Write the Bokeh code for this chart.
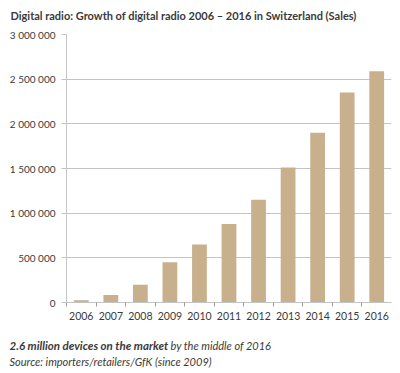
from bokeh.plotting import figure
from bokeh.layouts import column
from bokeh.models import Range1d, FixedTicker, CustomJSTickFormatter, Label, ColumnDataSource
from bokeh.embed import file_html
from bokeh.resources import INLINE

# ---- data ----
years = ["2006", "2007", "2008", "2009", "2010", "2011", "2012", "2013", "2014", "2015", "2016"]
sales = [25000, 85000, 200000, 450000, 650000, 880000, 1150000, 1510000, 1900000, 2350000, 2590000]
y_ticks = [0, 500000, 1000000, 1500000, 2000000, 2500000, 3000000]
title_text = "Digital radio: Growth of digital radio 2006 \u2013 2016 in Switzerland (Sales)"
note_bold = "2.6 million devices on the market"
note_rest = "by the middle of 2016"
source_text = "Source: importers/retailers/GfK (since 2009)"

FONT = "Lato"
TXT = "#3a3a3a"
GRID = "#c4c4c4"
BAR = "#c9b08c"
W = 392
HEAD_H, MAIN_H, FOOT_H = 26, 302, 44


def text_panel(h):
    f = figure(width=W, height=h, output_backend="svg", toolbar_location=None,
               x_range=Range1d(0, W), y_range=Range1d(0, h),
               x_axis_location=None, y_axis_location=None,
               min_border=0, min_border_left=0, min_border_right=0,
               min_border_top=0, min_border_bottom=0)
    f.frame_align = False
    f.outline_line_color = None
    f.grid.visible = False
    f.background_fill_color = "white"
    f.border_fill_color = "white"
    return f


# ---- header ----
head = text_panel(HEAD_H)
head.add_layout(Label(x=10, y=HEAD_H - 15, x_units="screen", y_units="screen", text=title_text,
                      text_font=FONT, text_font_size="11px", text_font_style="bold",
                      text_color=TXT, text_baseline="alphabetic"))

# ---- main chart ----
x_pos = [i + 0.5 for i in range(len(years))]
src = ColumnDataSource(dict(x=x_pos, top=sales, year=years))

p = figure(width=W, height=MAIN_H, output_backend="svg", toolbar_location=None,
           x_range=Range1d(0, len(years)), y_range=Range1d(0, y_ticks[-1]),
           min_border_left=66, min_border_right=1, min_border_top=8, min_border_bottom=26)
p.frame_align = False
p.outline_line_color = None
p.background_fill_color = "white"
p.border_fill_color = "white"

p.vbar(x="x", top="top", width=0.5, source=src, fill_color=BAR, line_color=None)

p.yaxis.ticker = FixedTicker(ticks=y_ticks, minor_ticks=[])
p.yaxis.formatter = CustomJSTickFormatter(code="return Math.round(tick).toString().replace(/\\B(?=(\\d{3})+(?!\\d))/g, ' ');")
p.yaxis.axis_line_color = GRID
p.yaxis.major_tick_line_color = GRID
p.yaxis.major_tick_out = 5
p.yaxis.major_tick_in = 0
p.yaxis.minor_tick_line_color = None
p.yaxis.major_label_standoff = 6
p.yaxis.major_label_text_font = FONT
p.yaxis.major_label_text_font_size = "10px"
p.yaxis.major_label_text_color = TXT
p.ygrid.grid_line_color = GRID
p.ygrid.ticker = FixedTicker(ticks=y_ticks)

p.xaxis.ticker = FixedTicker(ticks=x_pos, minor_ticks=list(range(0, len(years))))
p.xaxis.major_label_overrides = {x: y for x, y in zip(x_pos, years)}
p.xaxis.axis_line_color = GRID
p.xaxis.major_tick_line_color = None
p.xaxis.major_tick_out = 0
p.xaxis.major_tick_in = 0
p.xaxis.minor_tick_line_color = "#9a9a9a"
p.xaxis.minor_tick_out = 4
p.xaxis.minor_tick_in = 0
p.xaxis.major_label_standoff = 5
p.xaxis.major_label_text_font = FONT
p.xaxis.major_label_text_font_size = "10.5px"
p.xaxis.major_label_text_color = TXT
p.xgrid.grid_line_color = None

# ---- footer ----
foot = text_panel(FOOT_H)
foot.add_layout(Label(x=9, y=FOOT_H - 17, x_units="screen", y_units="screen", text=note_bold,
                      text_font=FONT, text_font_size="11.5px", text_font_style="bold italic",
                      text_color=TXT, text_baseline="alphabetic"))
foot.add_layout(Label(x=170, y=FOOT_H - 17, x_units="screen", y_units="screen", text=note_rest,
                      text_font=FONT, text_font_size="11px", text_font_style="italic",
                      text_color=TXT, text_baseline="alphabetic"))
foot.add_layout(Label(x=9, y=FOOT_H - 33, x_units="screen", y_units="screen", text=source_text,
                      text_font=FONT, text_font_size="11px", text_font_style="italic",
                      text_color=TXT, text_baseline="alphabetic"))

layout = column(head, p, foot, spacing=0)
open("out.html", "w").write(file_html(layout, INLINE))
